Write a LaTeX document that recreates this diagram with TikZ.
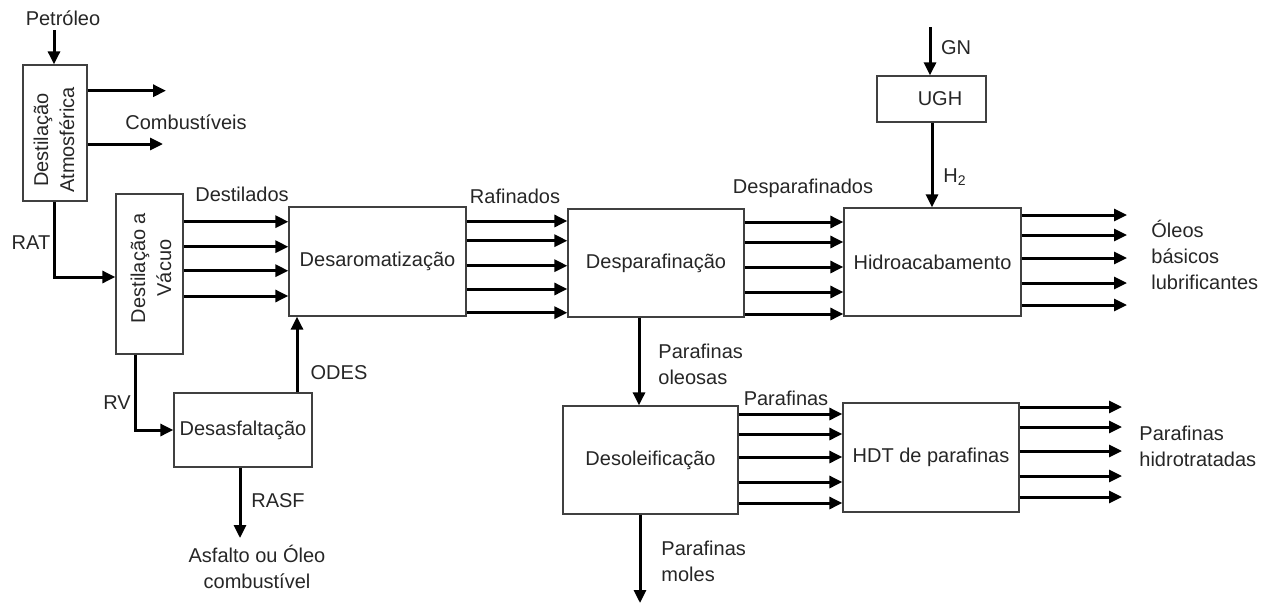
\documentclass[tikz,border=0pt]{standalone}
\usepackage{fontspec}
\setmainfont{Liberation Sans}
\usetikzlibrary{arrows.meta}
\begin{document}
\begin{tikzpicture}[x=0.5pt,y=-0.5pt,
  every node/.style={font=\fontsize{10}{13}\selectfont, text=black!85, inner sep=0pt},
  box/.style={draw=black!75, line width=0.65pt},
  sz/.style 2 args={minimum width=#1*0.5pt, minimum height=#2*0.5pt},
  arr/.style={line width=1.5pt, -{Triangle[length=6.5pt,width=6pt]}}]
\useasboundingbox (0,0) rectangle (1278,605);

% boxes
\node[box,sz={64}{136}] (DA) at (55,133) {};
\node[rotate=90,align=center] (DAt) at (54,140) {Destilação\\Atmosférica};
\node[box,sz={67}{160}] (DV) at (149.5,274) {};
\node[rotate=90,align=center] (DVt) at (151,268) {Destilação a\\Vácuo};
\node[box,sz={177}{109}] (DAR) at (377.5,261.5) {Desaromatização};
\node[box,sz={176}{108}] (DP) at (656,263) {Desparafinação};
\node[box,sz={177}{108}] (HA) at (932.5,262) {Hidroacabamento};
\node[box,sz={109}{46}] (UGH) at (931.5,99) {};
\node (UGHt) at (940,99) {UGH};
\node[box,sz={175}{108}] (DO) at (650.5,460) {Desoleificação};
\node[box,sz={176}{109}] (HDT) at (931,457.5) {HDT de parafinas};
\node[box,sz={138}{74}] (DS) at (243,430) {Desasfaltação};

% labels
\node (pet) at (63,18) {Petróleo};
\node (comb) at (186,122) {Combustíveis};
\node (rat) at (31,243) {RAT};
\node (dest) at (242,194) {Destilados};
\node (raf) at (515,196) {Rafinados};
\node (desp) at (803,188) {Desparafinados};
\node (gn) at (956,48) {GN};
\node (h2) at (955,177) {H\textsubscript{2}};
\node[align=left,anchor=west] (oleos) at (1151,254.5) {Óleos\\básicos\\lubrificantes};
\node[align=left,anchor=west] (poleo) at (658,364.5) {Parafinas\\oleosas};
\node (par) at (786,398) {Parafinas};
\node[align=left,anchor=west] (pmol) at (661,561.5) {Parafinas\\moles};
\node[align=left,anchor=west] (phid) at (1139,446.5) {Parafinas\\hidrotratadas};
\node (odes) at (339,373) {ODES};
\node (rv) at (117,403) {RV};
\node (rasf) at (278,501) {RASF};
\node[align=center] (asf) at (257,567) {Asfalto ou Óleo\\combustível};

% free ends
\coordinate (pin) at (54,30);
\coordinate (c1) at (166,90.7);
\coordinate (c2) at (163,144);
\coordinate (gnin) at (930,27);
\coordinate (asfend) at (240,538);
\coordinate (molend) at (640,603);

% connectors
\draw[arr] (pin) -- (DA.north -| pin);
\draw[arr] (DA.east |- c1) -- (c1);
\draw[arr] (DA.east |- c2) -- (c2);
\draw[arr] (DA.south -| 54,0) -- (54,277) -- (DV.west |- 0,277);
\draw[arr] (DV.south -| 135,0) -- (DS.west -| 135,0) -- (DS.west);
\draw[arr] (DS.north -| 297,0) -- (DAR.south -| 297,0);
\draw[arr] (DS.south -| asfend) -- (asfend);
\draw[arr] (gnin) -- (UGH.north -| gnin);
\draw[arr] (UGH.south -| 932,0) -- (HA.north -| 932,0);
\draw[arr] (DP.south -| 639,0) -- (DO.north -| 639,0);
\draw[arr] (DO.south -| molend) -- (molend);

\foreach \y in {221.7,246.7,270.7,296}
  \draw[arr] (DV.east |- 0,\y) -- (DAR.west |- 0,\y);
\foreach \y in {221,240.7,265.7,289,312.7}
  \draw[arr] (DAR.east |- 0,\y) -- (DP.west |- 0,\y);
\foreach \y in {222,242,267,292,314}
  \draw[arr] (DP.east |- 0,\y) -- (HA.west |- 0,\y);
\foreach \y/\n in {215/1,235/2,258/3,283/4,305/5}
  {\coordinate (o\n) at (1127,\y); \draw[arr] (HA.east |- o\n) -- (o\n);}
\foreach \y in {414,434,457,482,503}
  \draw[arr] (DO.east |- 0,\y) -- (HDT.west |- 0,\y);
\foreach \y/\n in {407/1,427/2,451/3,476/4,497/5}
  {\coordinate (h\n) at (1122,\y); \draw[arr] (HDT.east |- h\n) -- (h\n);}
\end{tikzpicture}
\end{document}
